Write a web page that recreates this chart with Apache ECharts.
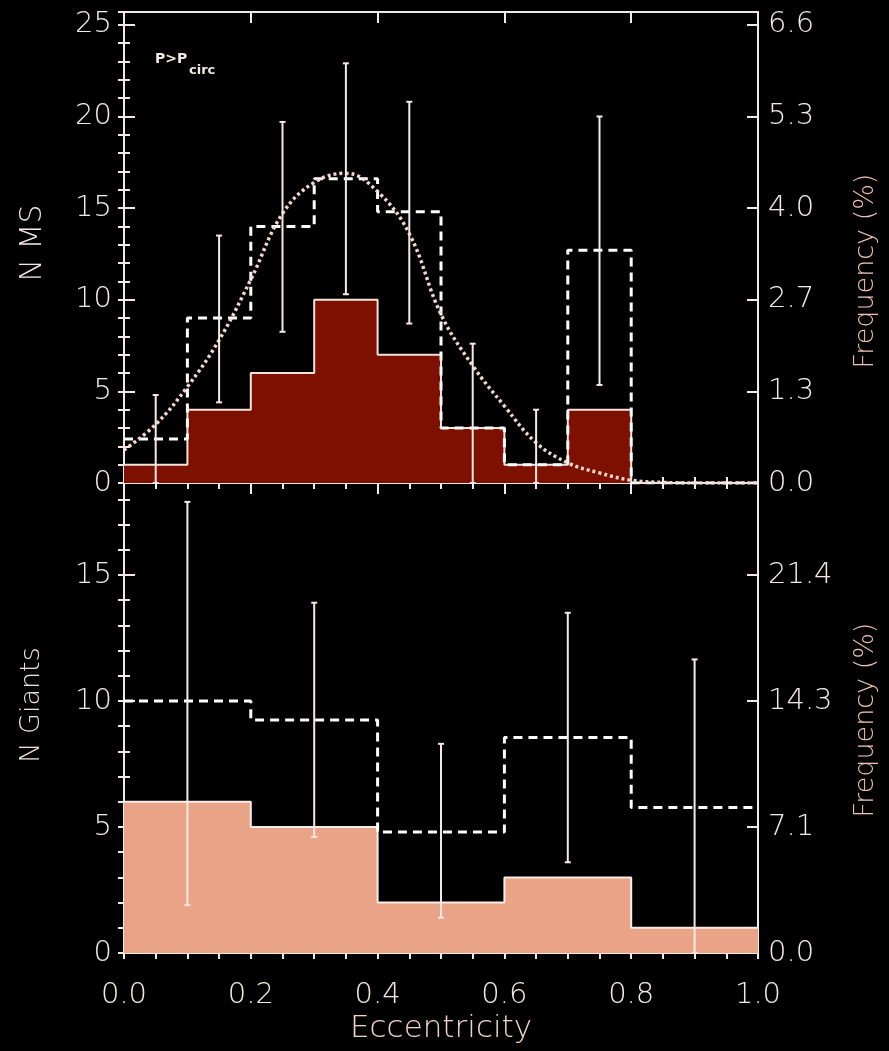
<!DOCTYPE html>
<html><head><meta charset="utf-8">
<script src="https://cdn.jsdelivr.net/npm/echarts@6/dist/echarts.min.js"></script>
<style>html,body{margin:0;padding:0;background:#000}#c{width:889px;height:1051px}</style>
</head><body><div id="c"></div><script>
// ---------- data ----------
const msBinEdges = [0, 0.1, 0.2, 0.3, 0.4, 0.5, 0.6, 0.7, 0.8, 0.9, 1.0];
const msCounts   = [1, 4, 6, 10, 7, 3, 1, 4, 0, 0];
const msDashed   = [2.4, 9, 14, 16.6, 14.8, 3, 1, 12.7, 0, 0];
const msErrX  = [0.05, 0.15, 0.25, 0.35, 0.45, 0.55, 0.65, 0.75];
const msErrLo = [0, 4.4, 8.25, 10.3, 8.7, 0, 0, 5.35];
const msErrHi = [4.8, 13.5, 19.7, 22.9, 20.8, 7.6, 4.0, 20.0];
const fitX = [0, 0.05, 0.1, 0.15, 0.2, 0.25, 0.3, 0.35, 0.4, 0.45, 0.5, 0.55, 0.6, 0.65, 0.7, 0.75, 0.8, 0.85, 0.9, 0.95, 1.0];
const fitY = [1.8, 3.2, 5.25, 7.8, 11.1, 14.7, 16.4, 16.9, 15.9, 13.6, 9.2, 6.4, 4.2, 2.2, 1.1, 0.55, 0.15, 0.03, 0, 0, 0];

const gBinEdges = [0, 0.2, 0.4, 0.6, 0.8, 1.0];
const gCounts   = [6, 5, 2, 3, 1];
const gDashed   = [10, 9.25, 4.8, 8.55, 5.77];
const gErrX  = [0.1, 0.3, 0.5, 0.7, 0.9];
const gErrLo = [1.9, 4.6, 1.4, 3.6, 0];
const gErrHi = [17.9, 13.9, 8.3, 13.5, 11.65];

const freqLabelsTop    = ['0.0', '1.3', '2.7', '4.0', '5.3', '6.6'];
const freqLabelsBottom = ['0.0', '7.1', '14.3', '21.4'];
const msMax = 25.7, gMax = 18.65;

// ---------- helpers ----------
function stepData(edges, vals) {
  const d = vals.map((v, i) => [edges[i], v]);
  d.push([edges[edges.length - 1], vals[vals.length - 1]]);
  return d;
}
const FG = '#f4e9e6';
const FONT = 'DejaVu Sans';
const FW = 200;

function xMajor(grid, pos, labels) {
  return {
    type: 'value', gridIndex: grid, position: pos, min: 0, max: 1, interval: 0.2,
    axisLine: {show: true, onZero: false, lineStyle: {color: FG, width: 2}},
    axisTick: {show: true, inside: true, length: 11, lineStyle: {color: FG, width: 2}},
    splitLine: {show: false},
    axisLabel: labels ? {show: true, color: FG, fontSize: 29, fontFamily: FONT, fontWeight: FW, margin: 28,
      formatter: v => v.toFixed(1)} : {show: false},
    name: labels ? 'Eccentricity' : '', nameLocation: 'middle', nameGap: 60,
    nameTextStyle: {color: '#f2d6ce', fontSize: 31, fontFamily: FONT, fontWeight: FW}
  };
}
function xMinor(grid, pos) {
  return {
    type: 'value', gridIndex: grid, position: pos, min: 0, max: 1, interval: 0.05,
    axisLine: {show: false}, splitLine: {show: false}, axisLabel: {show: false},
    axisTick: {show: true, inside: true, length: 6, lineStyle: {color: FG, width: 2}}
  };
}
function yMajor(grid, pos, max, fmt) {
  return {
    type: 'value', gridIndex: grid, position: pos, min: 0, max: max, interval: 5,
    axisLine: {show: true, onZero: false, lineStyle: {color: FG, width: 2}},
    axisTick: {show: true, inside: true, length: 11, lineStyle: {color: FG, width: 2}},
    splitLine: {show: false},
    axisLabel: {show: true, color: FG, fontSize: 29, fontFamily: FONT, fontWeight: FW, margin: pos === 'left' ? 12 : 10,
      formatter: v => (Math.abs(v / 5 - Math.round(v / 5)) < 1e-6 ? fmt(v) : '')}
  };
}
function yMinor(grid, pos, max) {
  return {
    type: 'value', gridIndex: grid, position: pos, min: 0, max: max, interval: 1,
    axisLine: {show: false}, splitLine: {show: false}, axisLabel: {show: false},
    axisTick: {show: true, inside: true, length: 6, lineStyle: {color: FG, width: 2}}
  };
}
function errSeries(xi, yi, xs, lo, hi) {
  return {
    type: 'custom', xAxisIndex: xi, yAxisIndex: yi, z: 10,
    data: xs.map((x, i) => [x, lo[i], hi[i]]),
    renderItem: function (params, api) {
      const a = api.coord([api.value(0), api.value(1)]);
      const b = api.coord([api.value(0), api.value(2)]);
      const st = {stroke: '#f7e8e4', lineWidth: 2};
      return {type: 'group', children: [
        {type: 'line', shape: {x1: a[0], y1: a[1], x2: b[0], y2: b[1]}, style: st},
        {type: 'line', shape: {x1: b[0] - 3, y1: b[1], x2: b[0] + 3, y2: b[1]}, style: st},
        {type: 'line', shape: {x1: a[0] - 3, y1: a[1], x2: a[0] + 3, y2: a[1]}, style: st}
      ]};
    }
  };
}
function vTitle(text, x, y, size, color) {
  return {type: 'text', x: x, y: y, rotation: Math.PI / 2,
    style: {text: text, fill: color, font: FW + ' ' + size + 'px "' + FONT + '"', align: 'center', verticalAlign: 'middle'}};
}

const chart = echarts.init(document.getElementById('c'));
chart.setOption({
  backgroundColor: '#000',
  animation: false,
  grid: [
    {left: 124, top: 12, width: 634, height: 471, outerBoundsMode: 'none'},
    {left: 124, top: 483, width: 634, height: 470, outerBoundsMode: 'none'}
  ],
  xAxis: [
    xMajor(0, 'bottom', false), xMajor(0, 'top', false), xMajor(1, 'bottom', true), xMajor(1, 'top', false),
    xMinor(0, 'bottom'), xMinor(0, 'top'), xMinor(1, 'bottom'), xMinor(1, 'top')
  ],
  yAxis: [
    yMajor(0, 'left', msMax, v => String(Math.round(v))),
    yMinor(0, 'left', msMax),
    yMajor(0, 'right', msMax, v => freqLabelsTop[Math.round(v / 5)]),
    yMinor(0, 'right', msMax),
    yMajor(1, 'left', gMax, v => String(Math.round(v))),
    yMinor(1, 'left', gMax),
    yMajor(1, 'right', gMax, v => freqLabelsBottom[Math.round(v / 5)]),
    yMinor(1, 'right', gMax)
  ],
  graphic: [
    {type: 'text', left: 155, top: 52, style: {text: 'P>P', fill: FG, font: 'bold 14px "DejaVu Sans"'}},
    {type: 'text', left: 189, top: 64, style: {text: 'circ', fill: FG, font: 'bold 13px "DejaVu Sans"'}},
    vTitle('N MS', 33, 243, 30, '#f4e6e2'),
    vTitle('N Giants', 32, 705, 27, '#f4e0da'),
    vTitle('Frequency (%)', 866, 271, 27, '#f0c4b2'),
    vTitle('Frequency (%)', 866, 720, 27, '#f0c4b2')
  ],
  series: [
    {type: 'line', xAxisIndex: 0, yAxisIndex: 0, step: 'end', symbol: 'none', z: 2,
     data: stepData(msBinEdges, msCounts),
     lineStyle: {color: '#f4e2dc', width: 2}, areaStyle: {color: '#7e1000', opacity: 1}},
    {type: 'line', xAxisIndex: 0, yAxisIndex: 0, step: 'end', symbol: 'none', z: 4,
     data: stepData(msBinEdges, msDashed),
     lineStyle: {color: '#ffffff', width: 3, type: [9, 6]}},
    {type: 'line', xAxisIndex: 0, yAxisIndex: 0, smooth: 0.4, symbol: 'none', z: 5,
     data: fitX.map((x, i) => [x, fitY[i]]),
     lineStyle: {color: '#f2d8cf', width: 3.5, type: [3, 3]}},
    errSeries(0, 0, msErrX, msErrLo, msErrHi),

    {type: 'line', xAxisIndex: 2, yAxisIndex: 4, step: 'end', symbol: 'none', z: 2,
     data: stepData(gBinEdges, gCounts),
     lineStyle: {color: '#f7ece8', width: 2}, areaStyle: {color: '#e9a487', opacity: 1}},
    {type: 'line', xAxisIndex: 2, yAxisIndex: 4, step: 'end', symbol: 'none', z: 4,
     data: stepData(gBinEdges, gDashed),
     lineStyle: {color: '#ffffff', width: 3, type: [9, 6]}},
    errSeries(2, 4, gErrX, gErrLo, gErrHi)
  ]
});
</script></body></html>
